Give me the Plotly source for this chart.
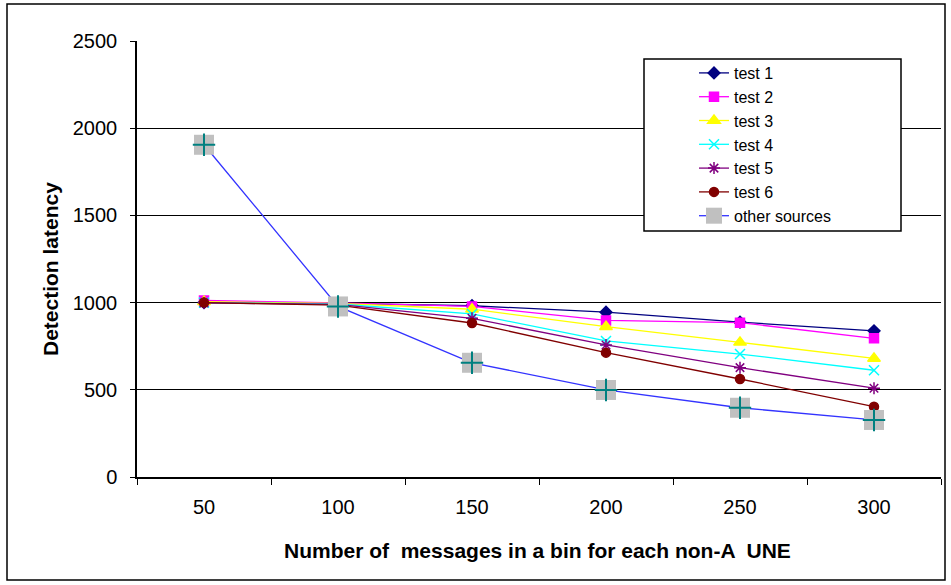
import plotly.graph_objects as go

categories = ["50", "100", "150", "200", "250", "300"]
test1 = [1000, 995, 982, 945, 888, 838]
test2 = [1012, 998, 978, 898, 885, 795]
test3 = [1005, 995, 962, 862, 772, 680]
test4 = [1000, 992, 935, 780, 705, 612]
test5 = [998, 990, 910, 757, 627, 509]
test6 = [1000, 985, 883, 713, 562, 403]
other = [1905, 978, 655, 499, 397, 327]
y_ticks = [0, 500, 1000, 1500, 2000, 2500]

series = [
    ("test 1", test1, "#000080", "diamond", 9),
    ("test 2", test2, "#ff00ff", "square", 9),
    ("test 3", test3, "#ffff00", "triangle-up", 11),
    ("test 4", test4, "#00ffff", "x-thin-open", 10),
    ("test 5", test5, "#800080", "asterisk-open", 10),
    ("test 6", test6, "#800000", "circle", 9),
]

fig = go.Figure()
for name, vals, col, sym, sz in series:
    fig.add_trace(go.Scatter(
        x=categories, y=vals, name=name, mode="lines+markers",
        line=dict(color=col, width=1.3),
        marker=dict(symbol=sym, color=col, size=sz, line=dict(color=col, width=1.5)),
    ))

fig.add_trace(go.Scatter(
    x=categories, y=other, name="other sources", mode="lines+markers",
    line=dict(color="#3333ff", width=1.3), legendgroup="o",
    marker=dict(symbol="square", color="#c0c0c0", size=20, line=dict(width=0)),
))
fig.add_trace(go.Scatter(
    x=categories, y=other, name="other sources", mode="markers",
    showlegend=False, legendgroup="o",
    marker=dict(symbol="cross-thin-open", color="#008080", size=16,
                line=dict(color="#008080", width=2)),
))

L, R, T, B = 137, 941, 41, 477
W, H = R - L, B - T
def px(x): return (x - L) / W
def py(y): return (B - y) / H

fig.update_layout(
    width=951, height=585,
    margin=dict(l=L, r=951 - R, t=T, b=585 - B),
    paper_bgcolor="white", plot_bgcolor="white",
    font=dict(family="Liberation Sans, Arial", size=16, color="#000000"),
    legend=dict(x=px(694), y=py(56), xanchor="left", yanchor="top",
                bgcolor="rgba(0,0,0,0)", borderwidth=0,
                font=dict(size=16), tracegroupgap=0, itemwidth=30),
    shapes=[
        dict(type="rect", xref="paper", yref="paper",
             x0=px(7), x1=px(945), y0=py(580), y1=py(4),
             line=dict(color="#000000", width=1.5), layer="below"),
        dict(type="rect", xref="paper", yref="paper",
             x0=px(644), x1=px(901), y0=py(231), y1=py(59),
             fillcolor="white", line=dict(color="#000000", width=1.5), layer="above"),
    ],
    annotations=[
        dict(text="<b>Number of  messages in a bin for each non-A  UNE</b>",
             xref="paper", yref="paper", x=px(537), y=py(550),
             xanchor="center", yanchor="middle", showarrow=False,
             font=dict(size=21)),
        dict(text="<b>Detection latency</b>", textangle=-90,
             xref="paper", yref="paper", x=px(50), y=py(269),
             xanchor="center", yanchor="middle", showarrow=False,
             font=dict(size=21)),
    ],
)
fig.update_xaxes(
    type="category", range=[-0.5, 5.5], tickson="boundaries",
    ticks="outside", ticklen=6, tickcolor="#000000",
    showline=True, linecolor="#000000", linewidth=1.5, showgrid=False,
    tickfont=dict(size=20), ticklabelstandoff=11,
)
fig.update_yaxes(
    range=[0, 2500], tickvals=y_ticks, ticks="outside", ticklen=5,
    tickcolor="#000000", showline=True, linecolor="#000000", linewidth=1.5,
    showgrid=True, gridcolor="#000000", gridwidth=1, zeroline=False,
    tickfont=dict(size=20), ticklabelstandoff=9,
)

fig.write_html("out.html")
